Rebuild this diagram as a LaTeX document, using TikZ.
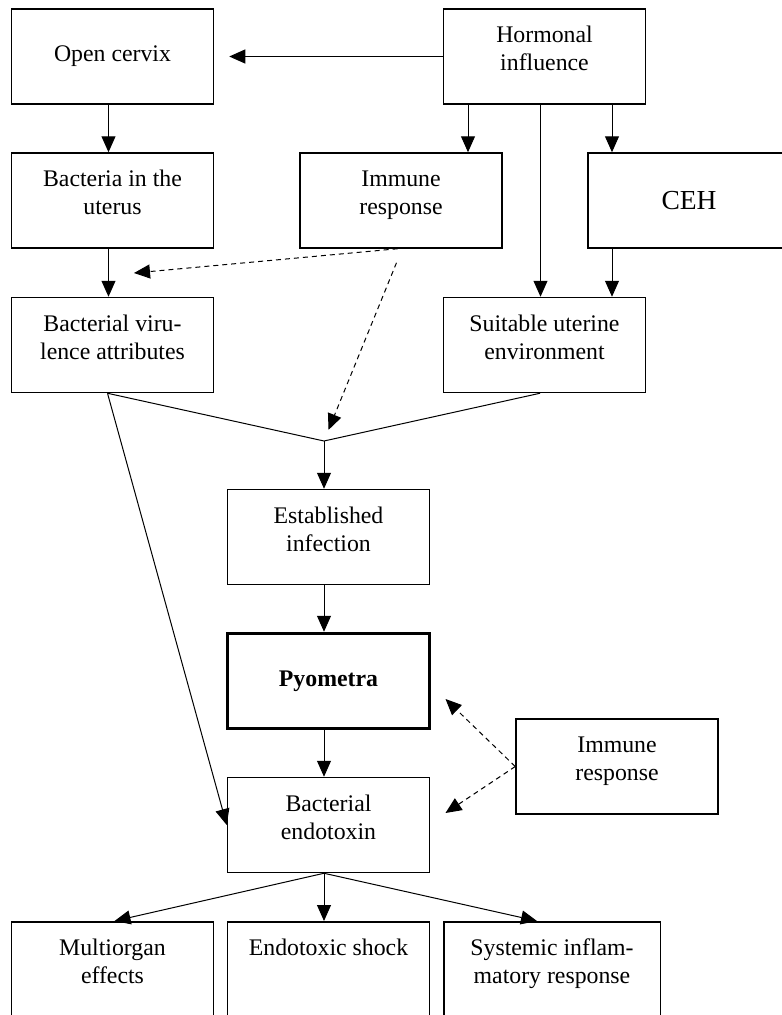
\documentclass[tikz,border=0pt]{standalone}
\usepackage{fontspec}
\setmainfont{Liberation Serif}
\usetikzlibrary{arrows.meta}
\tikzset{
  box/.style={draw, line width=1.5pt, minimum width=202pt, minimum height=95pt,
              align=center, inner sep=2pt, font=\fontsize{23.8}{28}\selectfont},
  txt/.style={anchor=north, align=center, inner sep=0pt, font=\fontsize{23.8}{28}\selectfont},
  flow/.style={-{Triangle[length=16pt,width=14pt]}, line width=1pt},
  link/.style={line width=1pt},
  hint/.style={flow, dash pattern=on 5pt off 4pt},
}
\newcommand{\lowpad}{\rule[-16pt]{0pt}{16pt}}
\begin{document}
\begin{tikzpicture}[x=1pt, y=-1pt]
        \useasboundingbox (0,0) rectangle (782,1015);                                  %
        \clip (0,0) rectangle (782,1015);                                              %
        \node [box] (open)  at (112.5,56.5)  {Open cervix};                            %row 1
        \node [box] (horm)  at (544.5,56.5)  {Hormonal\\influence\lowpad};             %
        \node [box] (bact)  at (112.5,200.5) {Bacteria in the\\uterus\lowpad};         %row 2
        \node [box] (immA)  at (401,200.5)   {Immune\\response\lowpad};                %
        \node [box, font=\fontsize{27.5}{32}\selectfont] (ceh) at (689,200.5) {CEH};   %
        \node [box] (viru)  at (112.5,345)   {Bacterial viru-\\lence attributes\lowpad};%row 3
        \node [box] (suit)  at (544.5,345)   {Suitable uterine\\environment\lowpad};   %
        \node [box] (estab) at (328.5,537)   {Established\\infection\lowpad};          %
        \node [box, line width=3.5pt] (pyo) at (328.5,681) {\textbf{Pyometra}};        %
        \node [box] (endo)  at (328.5,825)   {Bacterial\\endotoxin\lowpad};            %
        \node [box] (immB)  at (617,766.5)   {Immune\\response\lowpad};                %
        \node [box, anchor=north, minimum height=120pt] (multi) at (112.5,921) {};     %bottom row
        \node [box, anchor=north, minimum height=120pt] (shock) at (328.5,921) {};     %
        \node [box, anchor=north, minimum height=120pt, minimum width=216.5pt] (sys) at (552,921) {};
        \node [txt] (multitxt) at (112.5,939) {Multiorgan\\effects};                   %
        \node [txt] (shocktxt) at (328.5,939) {Endotoxic shock};                       %
        \node [txt] (systxt)   at (552,939)   {Systemic inflam-\\matory response};     %
        \coordinate (junc) at (324,441);                                               %
        \coordinate (tipV) at (134,273);                                               %
        \coordinate (tipP) at (445.5,699);                                             %
        \coordinate (tipE) at (445.5,813);                                             %
        \draw [flow, shorten >=15pt] (horm.west) -- (open.east);                       %
        \draw [flow] ([xshift=-4pt]open.south) -- ([xshift=-4pt]bact.north);           %
        \draw [flow] ([xshift=-4pt]bact.south) -- ([xshift=-4pt]viru.north);           %
        \draw [flow] ([xshift=-76.5pt]horm.south) -- ([xshift=-76.5pt]horm.south |- immA.north);
        \draw [flow] ([xshift=-4pt]horm.south) -- ([xshift=-4pt]suit.north);           %
        \draw [flow] ([xshift=67.5pt]horm.south) -- ([xshift=-77pt]ceh.north);         %
        \draw [flow] ([xshift=-77pt]ceh.south) -- ([xshift=67.5pt]suit.north);         %
        \draw [hint] ([xshift=-3.5pt]immA.south) -- (tipV);                            %
        \draw [hint, shorten >=12pt] ([xshift=-4.5pt,yshift=-14pt]immA.south) -- (junc);
        \draw [link] ([xshift=-5pt]viru.south) -- (junc) -- ([xshift=-4.5pt]suit.south);
        \draw [flow] (junc) -- (junc |- estab.north);                                  %
        \draw [flow] ([xshift=-4.5pt]estab.south) -- ([xshift=-4.5pt]pyo.north);       %
        \draw [flow] ([xshift=-4.5pt]pyo.south) -- ([xshift=-4.5pt]endo.north);        %
        \draw [flow] ([xshift=-5pt]viru.south) -- (endo.west);                         %
        \draw [hint] (immB.west) -- (tipP);                                            %
        \draw [hint] (immB.west) -- (tipE);                                            %
        \draw [flow] ([xshift=-4.5pt]endo.south) -- ([xshift=2pt]multi.north);         %
        \draw [flow] ([xshift=-4.5pt]endo.south) -- ([xshift=-4.5pt]shock.north);      %
        \draw [flow] ([xshift=-4.5pt]endo.south) -- ([xshift=-15pt]sys.north);         %
       \end{tikzpicture}
\end{document}
